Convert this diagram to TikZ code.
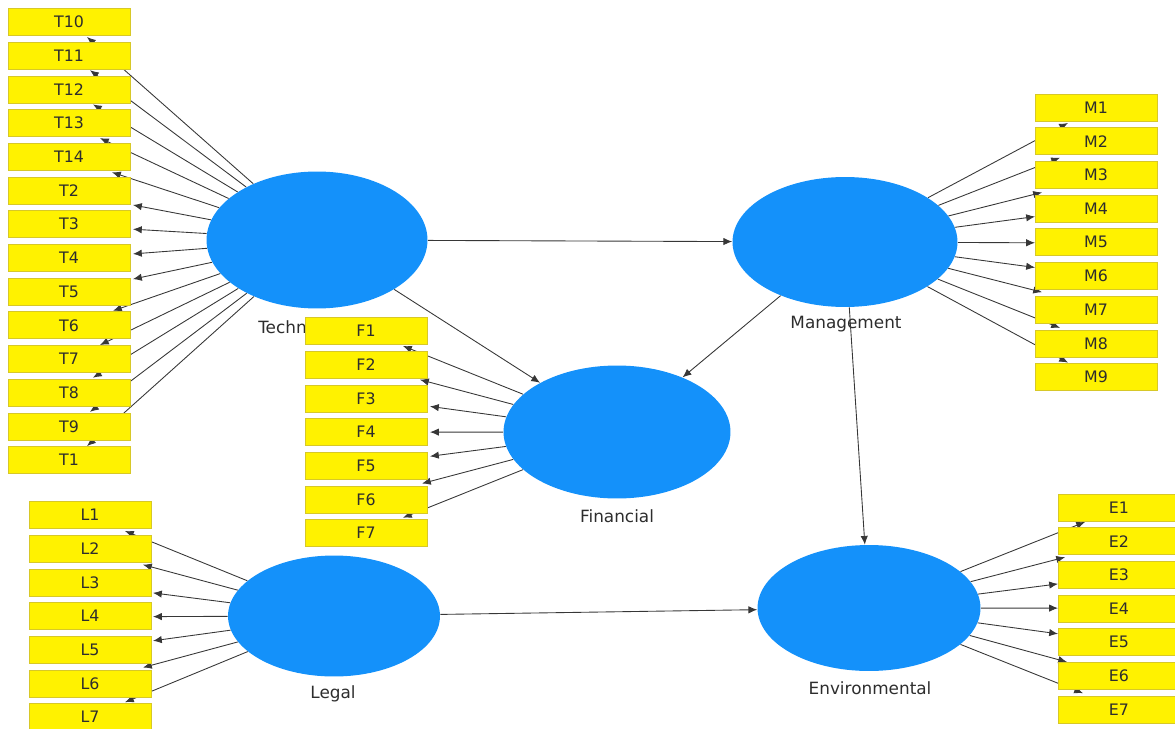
\documentclass[tikz,border=0pt]{standalone}
\usepackage{fontspec}
\setmainfont{DejaVu Sans}
\usetikzlibrary{shapes.geometric,arrows.meta,calc}
\definecolor{lvblue}{RGB}{20,145,250}
\definecolor{indedge}{RGB}{215,200,40}
\definecolor{linegray}{RGB}{55,55,55}
\definecolor{txtgray}{RGB}{45,45,45}
\begin{document}
\begin{tikzpicture}[x=0.02cm, y=-0.02cm,
  con/.style={ellipse, fill=lvblue, inner sep=0pt},
  ind/.style={draw=indedge, fill=yellow, minimum width=2.44cm,
              minimum height=0.54cm, inner sep=0pt,
              font=\fontsize{9}{10}\selectfont, text=txtgray},
  lbl/.style={font=\fontsize{9.6}{11}\selectfont, text=txtgray, inner sep=0pt},
  load/.style={-{Latex[length=5pt,width=4.2pt]}, draw=linegray, line width=0.5pt},
]
\useasboundingbox (0,0) rectangle (1175,729);
\clip (0,0) rectangle (1175,729);

% constructs
\node[con, minimum width=4.42cm, minimum height=2.74cm] (tech)  at (317,240) {};
\node[con, minimum width=4.50cm, minimum height=2.60cm] (mgmt)  at (845,242) {};
\node[con, minimum width=4.54cm, minimum height=2.66cm] (fin)   at (617,432) {};
\node[con, minimum width=4.24cm, minimum height=2.42cm] (legal) at (334,616) {};
\node[con, minimum width=4.46cm, minimum height=2.52cm] (env)   at (869,608) {};

\node[lbl] (techl)  at (297,327) {Technical};
\node[lbl] (mgmtl)  at (846,324) {Management};
\node[lbl] (finl)   at (617,516) {Financial};
\node[lbl] (legall) at (333,694) {Legal};
\node[lbl] (envl)   at (870,688) {Environmental};

% inner model
\draw[load] (tech)  -- (mgmt);
\draw[load] (tech)  -- (fin);
\draw[load] (mgmt)  -- (fin);
\draw[load] (mgmt)  -- (env);
\draw[load] (legal) -- (env);

% outer model: arrows first, boxes on top
\foreach \n/\y/\dx/\dy in {10/22/18/15, 11/55.7/21/14.5, 12/89.4/24/15,
    13/123.1/31/15, 14/156.8/43/15.5, 2/190.5/64/14.5, 3/224.2/64/5,
    4/257.9/64/-4, 5/291.6/64/-12.5, 6/325.3/44/-14.5, 7/359/31/-14,
    8/392.7/24/-15, 9/426.4/21/-14.5, 1/460.1/18/-14}{
  \coordinate (T\n) at (69,\y);
  \draw[load] (tech) -- ($(T\n)+(\dx,\dy)$);
}
\foreach \n/\y/\dx/\dy in {1/331/37/15, 2/364.7/54/15, 3/398.4/64/8,
    4/432.1/64/0, 5/465.8/64/-9.5, 6/499.5/56/-16, 7/533.2/37/-15.5}{
  \coordinate (F\n) at (366,\y);
  \draw[load] (fin) -- ($(F\n)+(\dx,\dy)$);
}
\foreach \n/\y/\dx/\dy in {1/107.5/-28/15.5, 2/141.2/-36/16.5, 3/174.9/-54/17.5,
    4/208.6/-61/8, 5/242.3/-61/0.5, 6/276/-61/-8.5, 7/309.7/-54/-17.5,
    8/343.4/-36/-15.5, 9/377.1/-28/-14.5}{
  \coordinate (M\n) at (1096,\y);
  \draw[load] (mgmt) -- ($(M\n)+(\dx,\dy)$);
}
\foreach \n/\y/\dx/\dy in {1/507.5/-34/14.5, 2/541.2/-54/16, 3/574.9/-61/9,
    4/608.6/-61/-0.5, 5/642.3/-61/-8.5, 6/676/-52/-14, 7/709.7/-36/-16.5}{
  \coordinate (E\n) at (1119,\y);
  \draw[load] (env) -- ($(E\n)+(\dx,\dy)$);
}
\foreach \n/\y/\dx/\dy in {1/515/35/16, 2/548.7/53/16, 3/582.4/63/10.5,
    4/616.1/63/0.5, 5/649.8/63/-9, 6/683.5/53/-16, 7/717.2/35/-15}{
  \coordinate (L\n) at (90,\y);
  \draw[load] (legal) -- ($(L\n)+(\dx,\dy)$);
}

% indicators
\foreach \n in {10,11,12,13,14,2,3,4,5,6,7,8,9,1}
  \node[ind] (t\n) at (T\n) {T\n};
\foreach \n in {1,...,7}
  \node[ind] (f\n) at (F\n) {F\n};
\foreach \n in {1,...,9}
  \node[ind] (m\n) at (M\n) {M\n};
\foreach \n in {1,...,7}
  \node[ind] (e\n) at (E\n) {E\n};
\foreach \n in {1,...,7}
  \node[ind] (l\n) at (L\n) {L\n};
\end{tikzpicture}
\end{document}
